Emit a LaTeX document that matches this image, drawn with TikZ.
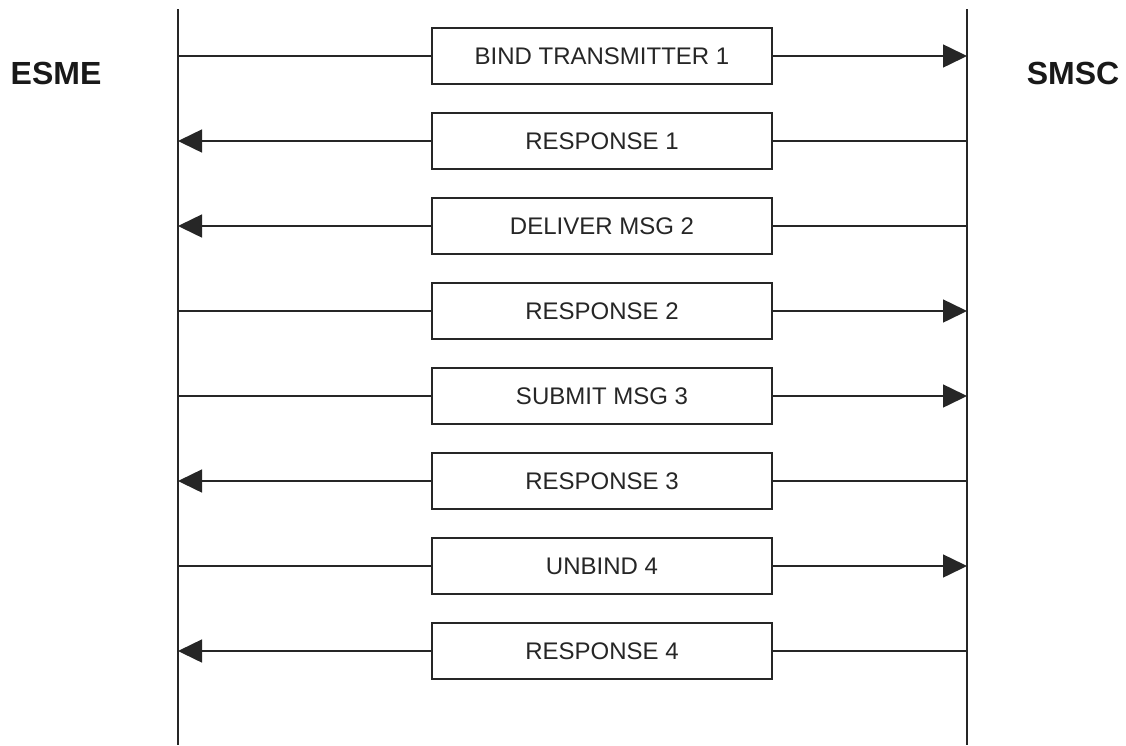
\documentclass[tikz,border=0pt]{standalone}
\usepackage{fontspec}
\setmainfont{Liberation Sans}
\usetikzlibrary{arrows.meta}
\begin{document}
\begin{tikzpicture}[x=1pt,y=1pt,
  msgbox/.style={draw=black!85, line width=1.5pt, fill=white, minimum width=340pt, minimum height=56pt, inner sep=0pt, font=\fontsize{24}{28}\selectfont, text=black!85},
  actor/.style={font=\fontsize{32}{36}\selectfont\bfseries, text=black!90},
  lifeline/.style={draw=black!85, line width=1.8pt},
  msgline/.style={draw=black!85, line width=1.5pt},
  tohead/.style={msgline, -{Triangle[length=24pt,width=23pt]}}]
\path[fill=white] (0,0) rectangle (1126,-745);
\useasboundingbox (0,0) rectangle (1126,-745);
\coordinate (esmeTop) at (178,-9);
\coordinate (esmeBot) at (178,-745);
\coordinate (smscTop) at (967,-9);
\coordinate (smscBot) at (967,-745);
\draw[lifeline] (esmeTop) -- (esmeBot);
\draw[lifeline] (smscTop) -- (smscBot);
\node[actor] (esme) at (56,-73.5) {ESME};
\node[actor] (smsc) at (1073,-73.5) {SMSC};
\node[msgbox] (m1) at (602,-56) {BIND TRANSMITTER 1};
\node[msgbox] (m2) at (602,-141) {RESPONSE 1};
\node[msgbox] (m3) at (602,-226) {DELIVER MSG 2};
\node[msgbox] (m4) at (602,-311) {RESPONSE 2};
\node[msgbox] (m5) at (602,-396) {SUBMIT MSG 3};
\node[msgbox] (m6) at (602,-481) {RESPONSE 3};
\node[msgbox] (m7) at (602,-566) {UNBIND 4};
\node[msgbox] (m8) at (602,-651) {RESPONSE 4};
% to SMSC
\foreach \m in {m1,m4,m5,m7}{
  \draw[msgline] (\m.west -| esmeTop) -- (\m.west);
  \draw[tohead] (\m.east) -- (\m.east -| smscTop);
}
% to ESME
\foreach \m in {m2,m3,m6,m8}{
  \draw[msgline] (\m.east -| smscTop) -- (\m.east);
  \draw[tohead] (\m.west) -- (\m.west -| esmeTop);
}
\end{tikzpicture}
\end{document}
